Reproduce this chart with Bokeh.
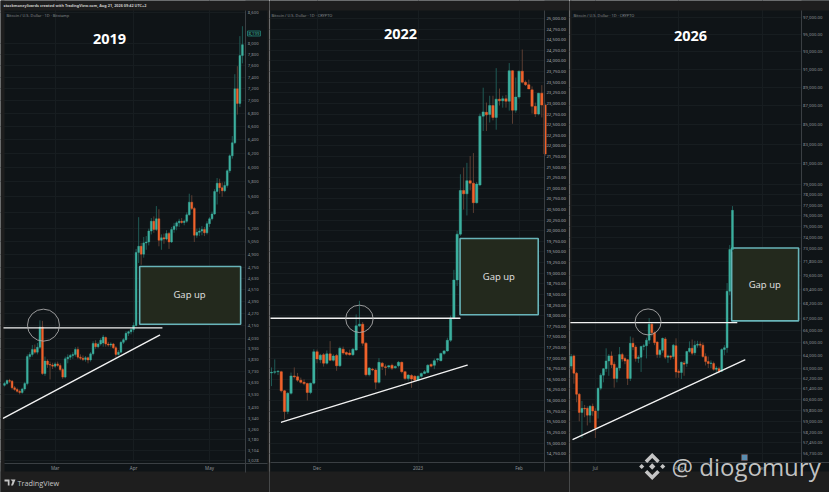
from bokeh.embed import file_html
from bokeh.resources import INLINE
from bokeh.models import FixedTicker, Label, BoxAnnotation, PolyAnnotation
from bokeh.plotting import figure
from bokeh.layouts import row
from bokeh.core.properties import value

PAGE = "#1e1e1e"; DARK = "#0f1417"; GRID = "#171d20"; EDGE = "#3a3f43"
UP = "#3cb09f"; DOWN = "#f0622c"; UPW = "#1f5a55"; DOWNW = "#5c3e32"
TICK = "#8d9296"

header_text = "stockmoneylizards created with TradingView.com, Aug 21, 2026 09:42 UTC+2"
footer_text = "TradingView"
watermark_text = "@ diogomury"
gap_text = "Gap up"

# ---- 2019 panel ----
p1_title = "2019"
p1_source = "Bitcoin / U.S. Dollar · 1D · Bitstamp"
p1_open = [3610,3625,3650,3645,3590,3575,3560,3550,3580,3625,3860,3880,3925,3900,3945,4135,3710,3820,3790,3785,3775,3795,3780,3745,3680,3840,3855,3870,3880,3925,3855,3845,3835,3850,3830,3885,3980,3950,3975,3985,4035,3975,3965,3975,3940,3880,3900,3990,4015,4075,4090,4110,4150,4920,4990,4900,5030,5040,5170,5290,5190,5320,5060,5090,5075,5140,5040,5190,5230,5270,5290,5275,5290,5370,5530,5450,5120,5155,5170,5190,5150,5260,5320,5380,5670,5780,5720,5680,5750,5950,6160,6350,7200,6960,7780]
p1_close = [3625,3650,3645,3590,3575,3560,3550,3580,3625,3860,3880,3925,3900,3945,4135,3710,3820,3790,3785,3775,3795,3780,3745,3680,3840,3855,3870,3880,3925,3855,3845,3835,3850,3830,3885,3980,3950,3975,4010,4040,3975,3965,3975,3940,3880,3900,3990,4015,4075,4090,4110,4150,4920,4990,4900,5030,5040,5170,5290,5190,5320,5060,5090,5075,5140,5040,5190,5230,5270,5290,5275,5290,5370,5530,5450,5120,5155,5170,5190,5150,5260,5320,5380,5670,5780,5720,5680,5750,5950,6160,6350,7200,6960,7780,7980]
p1_high = [3640,3660,3665,3655,3605,3590,3575,3590,3640,3880,3900,3965,3970,3985,4200,4195,3860,3835,3815,3805,3810,3815,3800,3760,3860,3880,3885,3900,3945,3950,3880,3870,3865,3860,3900,4000,4010,3990,4030,4060,4045,3995,3990,3985,3955,3920,4005,4030,4095,4100,4125,4180,4960,5340,5030,5100,5110,5200,5330,5350,5480,5440,5130,5140,5180,5160,5220,5270,5290,5320,5330,5310,5400,5640,5620,5470,5200,5210,5230,5220,5290,5340,5410,5700,5850,5840,5790,5800,5970,6180,6450,7450,7590,8140,8330]
p1_low = [3600,3615,3630,3575,3565,3550,3535,3540,3565,3610,3835,3860,3885,3880,3930,3700,3690,3760,3660,3750,3760,3770,3730,3665,3670,3800,3830,3840,3860,3840,3830,3820,3815,3800,3815,3870,3930,3935,3960,3950,3950,3950,3945,3930,3850,3870,3890,3975,4000,4050,4065,4085,4140,4800,4780,4860,4950,5000,5130,5150,5170,4990,4950,5020,5060,4960,5030,5150,5180,5220,5260,5240,5270,5360,5430,5040,5090,5110,5120,5110,5130,5220,5300,5370,5500,5640,5600,5660,5720,5920,6120,6330,6780,6900,7640]
p1_y_ticks = [8600,8000,7800,7600,7400,7200,7000,6800,6600,6400,6200,6000,5800,5600,5400,5200,5050,4900,4750,4630,4510,4390,4270,4150,4030,3930,3830,3730,3630,3530,3430,3340,3260,3180,3104,3028]
p1_x_ticks = [20, 51, 81]
p1_x_labels = ["Mar", "Apr", "May"]
p1_level_x = [-0.4, 62.4]; p1_level_y = [4127, 4127]
p1_trend_x = [-0.4, 61.3]; p1_trend_y = [3344, 4057]
p1_circle = (15.4, 4153)
p1_box = (53.4, 93.3, 4162, 4761)
p1_gap_label = (73.1, 4457)
p1_last_price = "8,199"

# ---- 2022 panel ----
p2_title = "2022"
p2_source = "Bitcoin / U.S. Dollar · 1D · CRYPTO"
p2_open = [16650,16665,16680,16680,16230,15740,16170,16580,16560,16480,16430,16400,16190,16410,17150,16960,17080,16880,17100,16950,17060,16820,17210,17130,17120,17080,17190,17760,17800,17350,16610,16740,16720,16430,16880,16795,16790,16830,16770,16820,16900,16680,16520,16590,16570,16480,16570,16640,16660,16850,16830,16960,16940,17110,17170,17420,17940,18840,19920,20950,20870,21180,21120,20660,21080,22700,22790,22740,22950,22670,23100,23060,23110,23050,23770,22840,23150,23760,23500,23440,23320,22930,22750,23240,22960]
p2_high = [16780,16970,16720,16700,16250,16200,16660,16780,16650,16540,16500,16420,16420,17210,17200,17100,17120,17180,17400,17090,17100,17270,17270,17160,17200,17240,18030,18350,17850,17380,16790,16770,16760,17000,16910,16850,16840,16870,16830,16930,16920,16700,16620,16620,16600,16600,16660,16720,16860,16880,16990,17000,17130,17190,17480,18000,19080,20000,21330,21490,21600,21760,21830,21150,22760,23370,23020,23180,23180,23830,23350,23180,23200,23950,23780,23610,23770,24270,23540,23560,23400,23020,23250,23430,23000]
p2_low = [16340,16620,16600,16190,15560,15680,16140,16520,16440,16400,16360,16000,16150,16380,16880,16880,16800,16850,16930,16920,16700,16790,17080,17060,17060,17050,17170,17730,17290,16570,16570,16690,16270,16400,16720,16590,16750,16720,16750,16780,16640,16480,16470,16300,16470,16460,16540,16620,16640,16780,16740,16900,16920,17070,17150,17380,17910,18700,19880,20500,20360,20950,20420,20640,21050,22350,22350,22550,22600,22380,22950,22900,22900,22830,22520,22780,23110,23470,23410,23340,22760,22680,22720,22670,21760]
p2_close = [16665,16680,16690,16230,15740,16170,16580,16560,16480,16430,16400,16190,16410,17150,16980,17070,16880,17100,16950,17050,16820,17230,17120,17090,17080,17210,17760,17800,17350,16610,16765,16720,16430,16900,16800,16780,16820,16760,16800,16900,16680,16520,16600,16510,16480,16570,16640,16680,16830,16810,16940,16985,17110,17170,17420,17940,18840,19920,20950,20870,21180,21120,20660,21100,22700,22800,22730,22950,22670,23100,23060,23110,23050,23770,22840,23150,23760,23500,23440,23340,22930,22750,23240,22960,21810]
p2_y_ticks = [25000,24750,24500,24250,24000,23750,23500,23250,23000,22750,22500,22250,22000,21750,21500,21250,21000,20750,20500,20250,20000,19750,19500,19250,19000,18750,18500,18250,18000,17750,17500,17250,17000,16750,16500,16250,16000,15750,15500,15250,15000,14750]
p2_x_ticks = [14, 45, 76]
p2_x_labels = ["Dec", "2023", "Feb"]
p2_level_x = [-0.3, 58]; p2_level_y = [17940, 17940]
p2_trend_x = [3.1, 60.1]; p2_trend_y = [15490, 16833]
p2_circle = (27, 17925)
p2_box = (57.9, 81.9, 18020, 19817)
p2_gap_label = (69.8, 18922)

# ---- 2026 panel ----
p3_title = "2026"
p3_source = "Bitcoin / U.S. Dollar · 1D · CRYPTO"
p3_open = [63150,63950,62600,61000,59650,59950,59950,59450,60100,59750,59800,61450,62450,62950,63550,63950,63300,62200,63000,64050,63750,63650,62200,64950,64650,63750,63850,64700,64750,65200,66500,65800,65050,64050,64400,65300,63850,63950,63900,64750,62750,62650,63400,63350,64300,64550,64200,64800,64880,64800,63900,63500,63350,63350,62900,62950,62750,64450,64600,69250,72900]
p3_high = [64100,64050,62700,61100,60500,60200,60100,60200,60300,59950,61500,62600,63000,64550,64100,64300,63500,63100,64650,64200,63900,63700,65500,65400,64800,64000,64750,64900,65400,67000,66600,65900,65100,64500,65400,65450,64050,64000,64900,65350,62900,63500,63550,64350,65100,65250,65150,65150,65100,65000,64150,63900,63600,63500,63150,63100,64550,64800,69950,73300,76900]
p3_low = [62900,61800,60400,59000,57800,59300,58700,58900,59400,57800,59200,61300,61900,62700,62400,63000,61500,61900,62800,63500,63300,61700,62000,64400,63500,63400,62700,64400,63750,64900,65500,64800,63800,63800,64200,63700,63400,63650,63700,62250,62250,62150,62400,63100,64200,64000,64000,64600,64600,63800,63200,63000,63000,62800,62700,62600,62700,64000,64200,68900,72700]
p3_close = [63900,62600,61000,59650,59950,59900,59450,60100,59750,58500,61450,62450,62950,63550,63950,63250,62200,63000,64050,63700,63550,62200,64950,64650,63750,63850,64700,64750,65200,66500,65800,65000,64050,64400,65350,63850,63950,63850,64800,62700,62650,63450,63300,64300,64550,64150,64800,64880,64800,63900,63500,63350,63400,62900,63000,62750,64450,64600,69250,72900,76500]
p3_y_ticks = [97000,95000,93000,91000,89000,87000,85000,83000,81000,79000,78000,77000,76000,75000,74000,73000,71800,70600,69400,68200,67000,66000,65000,64000,63000,62200,61400,60600,59800,59000,58200,57450,56730]
p3_x_ticks = [9, 40, 71]
p3_x_labels = ["Jul", "Aug", "Sep"]
p3_level_x = [-0.3, 61.8]; p3_level_y = [66620, 66620]
p3_trend_x = [0.7, 64.6]; p3_trend_y = [57700, 63630]
p3_circle = (28.6, 66680)
p3_box = (59.7, 84.6, 66770, 73040)
p3_gap_label = (72, 69840)


def label(p, x, y, text, size, color="#ffffff", style="normal", font="Noto Sans",
          align="left", alpha=1.0, **kw):
    p.add_layout(Label(x=x, y=y, x_units="canvas", y_units="canvas", text=text,
                       text_font=font, text_font_size=size, text_color=color,
                       text_font_style=style, text_align=align, text_baseline="middle",
                       text_alpha=alpha, **kw))


def panel(width, left, right, band_right, x_range, y_range, x_axis_at, y_axis_at, yscale, o, h, l, c,
          yticks, ylabels, xticks, xlabels, title, title_xy, source, source_x,
          level, trend, circle, radius, box, gap, label_color):
    axis_type = "log" if yscale == "log" else "linear"
    p = figure(width=width, height=492, x_range=x_range, y_range=y_range,
               y_axis_type=axis_type, y_axis_location="right",
               toolbar_location=None, output_backend="svg",
               min_border=0, min_border_left=0, min_border_right=0, min_border_top=0, min_border_bottom=0,
               background_fill_color=DARK, border_fill_color=PAGE, outline_line_color=None)
    box_units = dict(level="underlay", line_color=None, fill_alpha=1,
                     left_units="canvas", right_units="canvas", top_units="canvas", bottom_units="canvas")
    # cover the grid where the chart frame ends: price and time scales stay dark
    p.add_layout(BoxAnnotation(left=right, right=band_right, top=0, bottom=492, fill_color=DARK, **box_units))
    p.add_layout(BoxAnnotation(left=0, right=band_right, top=462, bottom=492, fill_color=DARK, **box_units))
    # window chrome around the chart
    p.add_layout(BoxAnnotation(left=0, right=width, top=0, bottom=10, fill_color=PAGE, **box_units))
    p.add_layout(BoxAnnotation(left=0, right=width, top=471, bottom=492, fill_color=PAGE, **box_units))
    p.add_layout(BoxAnnotation(left=0, right=left, top=0, bottom=492, fill_color=PAGE, **box_units))
    if band_right < width:
        p.add_layout(BoxAnnotation(left=band_right, right=width, top=0, bottom=492, fill_color=PAGE, **box_units))

    ax = p.yaxis[0]
    ax.ticker = FixedTicker(ticks=yticks)
    ax.major_label_overrides = dict(zip(yticks, ylabels))
    ax.fixed_location = y_axis_at[0]
    ax.bounds = (y_axis_at[1], y_axis_at[2])
    ax.major_tick_line_color = None; ax.minor_tick_line_color = None
    ax.major_tick_out = 0; ax.major_tick_in = 0; ax.minor_tick_out = 0; ax.minor_tick_in = 0
    ax.major_label_text_font = "Noto Sans"; ax.major_label_text_font_size = "4.3px"
    ax.major_label_text_color = label_color; ax.major_label_standoff = 2
    ax.axis_line_color = EDGE; ax.axis_line_width = 1
    xa = p.xaxis[0]
    xa.ticker = FixedTicker(ticks=xticks)
    xa.major_label_overrides = dict(zip(xticks, xlabels))
    xa.fixed_location = x_axis_at[0]
    xa.bounds = (x_axis_at[1], x_axis_at[2])
    xa.major_tick_line_color = None; xa.minor_tick_line_color = None
    xa.major_tick_out = 0; xa.major_tick_in = 0; xa.minor_tick_out = 0; xa.minor_tick_in = 0
    xa.major_label_text_font = "Noto Sans"; xa.major_label_text_font_size = "4.5px"
    xa.major_label_text_color = TICK; xa.major_label_standoff = 2
    xa.axis_line_color = EDGE; xa.axis_line_width = 1
    p.xgrid.grid_line_color = GRID; p.ygrid.grid_line_color = GRID
    p.xgrid.grid_line_width = 1; p.ygrid.grid_line_width = 1

    xs = list(range(len(o)))
    wc = [UPW if cc >= oo else DOWNW for oo, cc in zip(o, c)]
    bc = [UP if cc >= oo else DOWN for oo, cc in zip(o, c)]
    p.quad(left=[box[0]], right=[box[1]], bottom=[box[2]], top=[box[3]],
           fill_color="#23291d", line_color="#68b4b9", line_width=1.6)
    p.segment(x0=xs, x1=xs, y0=l, y1=h, line_color=wc, line_width=1)
    p.vbar(x=xs, width=0.72, top=[max(a, b) for a, b in zip(o, c)], bottom=[min(a, b) for a, b in zip(o, c)],
           fill_color=bc, line_color=bc, line_width=0.4)
    p.line(level[0], level[1], line_color="#f2f2f2", line_width=1.4)
    p.line(trend[0], trend[1], line_color="#f2f2f2", line_width=1.4, line_cap="round")
    p.scatter(x=[circle[0]], y=[circle[1]], size=2 * radius, marker="circle", fill_color=None,
              line_color="#a9a9a9", line_width=0.9)
    p.text(x=[gap[0]], y=[gap[1]], text=[gap_text], text_color="#e4e4e4", text_font=value("Open Sans"),
           text_font_size="9.5px", text_align="center", text_baseline="middle")
    label(p, title_xy[0], title_xy[1], title, "14.5px", style="bold", font="Open Sans", align="center")
    label(p, source_x, 14.5, source, "3.9px", color="#858a8e")
    return p


p1_labels = [f"{v:,}" for v in p1_y_ticks]
p2_labels = [f"{v:,.2f}" for v in p2_y_ticks]
p3_labels = [f"{v:,.2f}" for v in p3_y_ticks]

f1 = panel(269, 4, 245, 267, (-1.58, 104.7), (2813, 8844), (3011, 0, 103.9), (95.3, 2950, 8640), "log",
           p1_open, p1_high, p1_low, p1_close,
           p1_y_ticks, p1_labels, p1_x_ticks, p1_x_labels, p1_title, (109, 38.5), p1_source, 6,
           (p1_level_x, p1_level_y), (p1_trend_x, p1_trend_y), p1_circle, 16, p1_box, p1_gap_label, TICK)
f2 = panel(300, 1, 275, 299, (-0.61, 91.5), (13834, 25424), (14540, -0.3, 91.1), (83.8, 14330, 25188), "linear",
           p2_open, p2_high, p2_low, p2_close,
           p2_y_ticks, p2_labels, p2_x_ticks, p2_x_labels, p2_title, (131, 33.5), p2_source, 2,
           (p2_level_x, p2_level_y), (p2_trend_x, p2_trend_y), p2_circle, 13.7, p2_box, p2_gap_label, "#a7abae")
f3 = panel(260, 2, 232, 260, (-0.63, 96.1), (54050, 99052), (56070, -0.1, 96.1), (85.5, 55760, 97840), "log",
           p3_open, p3_high, p3_low, p3_close,
           p3_y_ticks, p3_labels, p3_x_ticks, p3_x_labels, p3_title, (121, 35), p3_source, 4,
           (p3_level_x, p3_level_y), (p3_trend_x, p3_trend_y), p3_circle, 13, p3_box, p3_gap_label, TICK)

# last-price tag on the 2019 scale
label(f1, 247, 33, p1_last_price, "4.3px", color=UP, border_line_color="#1f6f66",
      background_fill_color="#101c1c", padding=1)

# header and footer
label(f1, 3, 5, header_text, "3.8px", color="#c9c9c9", style="bold")
label(f1, 17, 482, footer_text, "7.3px", color="#c4c4c4", font="Open Sans")
f1.add_layout(PolyAnnotation(xs=[4, 9, 9, 7.3, 7.3, 4], ys=[479, 479, 485, 485, 481, 481],
                             xs_units="canvas", ys_units="canvas", fill_color="#c4c4c4", fill_alpha=1, line_color=None))
f1.add_layout(PolyAnnotation(xs=[10, 15, 12.5, 10.5, 12], ys=[479, 479, 485, 485, 481],
                             xs_units="canvas", ys_units="canvas", fill_color="#c4c4c4", fill_alpha=1, line_color=None))

# Binance-style watermark over the 2026 panel (canvas x = page x - 569)
label(f3, 102, 465.5, watermark_text, "24px", color="#d4d4d4", font="Open Sans", alpha=0.92)
cx, cy = 82.7, 466
shapes = [
    [(0, -3.2), (3.2, 0), (0, 3.2), (-3.2, 0)],
    [(-10.5, -2.6), (-7.9, 0), (-10.5, 2.6), (-13.1, 0)],
    [(10.5, -2.6), (13.1, 0), (10.5, 2.6), (7.9, 0)],
    [(0, -13.5), (7.5, -6), (5, -3.5), (0, -8.5), (-5, -3.5), (-7.5, -6)],
    [(0, 13.5), (7.5, 6), (5, 3.5), (0, 8.5), (-5, 3.5), (-7.5, 6)],
]
for s in shapes:
    f3.add_layout(PolyAnnotation(xs=[cx + a for a, b in s], ys=[cy + b for a, b in s],
                                 xs_units="canvas", ys_units="canvas",
                                 fill_color="#d4d4d4", fill_alpha=0.92, line_color=None))
f3.add_layout(BoxAnnotation(left=172, right=178, top=454, bottom=460, left_units="canvas", right_units="canvas",
                            top_units="canvas", bottom_units="canvas", fill_color="#5a8db0", fill_alpha=1,
                            line_color="#a84a30", line_width=1))

root = row(f1, f2, f3, spacing=0, styles={"position": "absolute", "left": "0", "top": "0"})
open("out.html", "w").write(file_html(root, INLINE))
